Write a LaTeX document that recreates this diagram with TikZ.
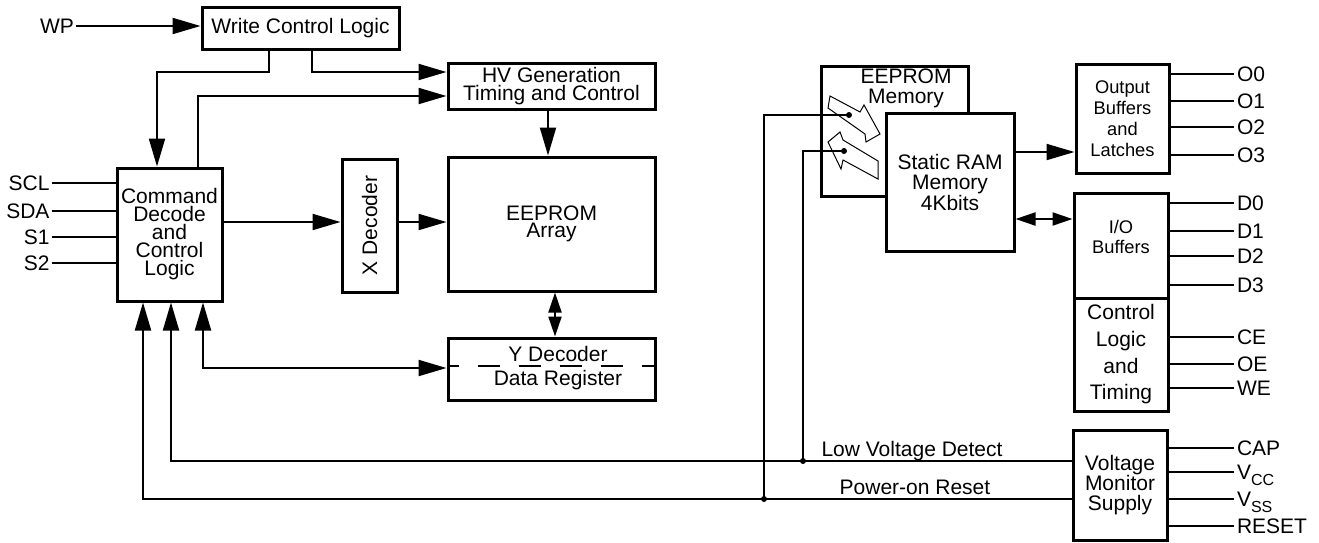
\documentclass[tikz,border=0pt]{standalone}
\usepackage{fontspec}
\setmainfont{Liberation Sans}
\usetikzlibrary{arrows.meta}

\newcommand{\subtxt}[1]{\raisebox{-5.5pt}{\fontsize{16}{16}\selectfont #1}}

\begin{document}
\begin{tikzpicture}[x=1pt,y=-1pt,line width=2pt,
  font=\fontsize{21}{18}\selectfont,
  blk/.style={draw,line width=3pt,fill=white,inner sep=0pt,align=center},
  txt/.style={inner sep=0pt,align=center},
  smallfont/.style={font=\fontsize{18.3}{21}\selectfont},
  pinl/.style={inner sep=1pt,anchor=east,text height=15pt,text depth=0pt},
  pinr/.style={inner sep=2pt,anchor=west,text height=15pt,text depth=0pt},
  arr/.style={-{Triangle[length=28pt,width=16pt]}},
  barr/.style={{Triangle[length=28pt,width=16pt]}-{Triangle[length=28pt,width=16pt]}},
  darr/.style={{Triangle[length=20pt,width=13pt]}-{Triangle[length=20pt,width=13pt]}},
  hollow/.style={line width=1pt,fill=white,line join=miter}]
\useasboundingbox (0,0) rectangle (1319,542);

% left part: write control, command decode, array
\node[blk,minimum width=197pt,minimum height=42pt] (wcl) at (300.5,28) {Write Control Logic};
\node[blk,minimum width=207pt,minimum height=46pt] (hv) at (551.5,86) {HV Generation\\Timing and Control};
\node[blk,minimum width=105pt,minimum height=133pt,font=\fontsize{21}{18}\selectfont] (cmd) at (169.5,234.5) {Command\\Decode\\and\\Control\\Logic};
\node[blk,minimum width=55pt,minimum height=133pt] (xdec) at (369.5,225.5) {};
\node[txt,rotate=90] (xdeclbl) at (xdec) {X Decoder};
\node[blk,minimum width=207pt,minimum height=134pt,font=\fontsize{21}{17}\selectfont] (array) at (551.5,224) {EEPROM\\Array};
\node[blk,minimum width=207pt,minimum height=62pt] (ydec) at (551.5,369) {};
\draw[dash pattern=on 22pt off 19pt,dash phase=10pt] ([yshift=3pt]ydec.west) -- ([yshift=3pt]ydec.east);
\node[txt] (ydeclbl) at (558,354) {Y Decoder};
\node[txt] (dreglbl) at (558,380) {Data Register};

\node[pinl] (wp) at (76,26) {WP};
\draw[arr] (wp.east) -- (wp.east -| wcl.west);
\foreach \nm/\lbl/\y in {scl/SCL/183,sda/SDA/211,sa/S1/237,sb/S2/263}{
  \node[pinl] (\nm) at (51.5,\y) {\lbl};
  \draw (\nm.east) -- (\nm.east -| cmd.west);
}

\draw[arr] ([xshift=-31.5pt]wcl.south) -- ++(0,21) -| ([xshift=-12.5pt]cmd.north);
\draw[arr] ([xshift=11.5pt]wcl.south) |- ([yshift=14pt]hv.west);
\draw[arr] ([xshift=28.5pt]cmd.north) |- ([yshift=-10pt]hv.west);
\draw[arr] ([xshift=-3.5pt]hv.south) -- ([xshift=-3.5pt]array.north);
\draw[arr] ([yshift=12.5pt]cmd.east) -- ([yshift=12.5pt]cmd.east -| xdec.west);
\draw[arr] ([yshift=3.5pt]xdec.east) -- ([yshift=3.5pt]xdec.east -| array.west);
\draw[darr] ([xshift=3.5pt]array.south) -- ([xshift=3.5pt]ydec.north);
\draw[barr] ([xshift=33.5pt]cmd.south) |- ([yshift=1pt]ydec.west);

% memory
\node[blk,minimum width=147pt,minimum height=130pt] (eeprom) at (894.5,131) {};
\node[txt,font=\fontsize{21}{20}\selectfont] (eeplbl) at (906,88) {EEPROM\\Memory};
\draw[hollow] (830,96) -- (860,112) -- (864,105) -- (880,134) -- (866,142) -- (865,134) -- (828,108) -- cycle;
\draw[hollow] (828,142) -- (840,132) -- (843,140) -- (878,161) -- (878,179) -- (843,160) -- (841,169) -- cycle;
\node[blk,minimum width=128pt,minimum height=138pt,font=\fontsize{21}{20.5}\selectfont] (sram) at (950,182) {Static RAM\\Memory\\4Kbits};

% right part
\node[blk,smallfont,minimum width=93pt,minimum height=109pt] (obuf) at (1122.5,118.5) {Output\\Buffers\\and\\Latches};
\node[blk,minimum width=94pt,minimum height=105pt] (iobuf) at (1121,245.5) {};
\node[txt,font=\fontsize{18.3}{20}\selectfont] (iolbl) at ([yshift=8.5pt]iobuf.center) {I/O\\Buffers};
\node[blk,minimum width=94pt,minimum height=113pt,font=\fontsize{21}{26.7}\selectfont] (ctrl) at (1121,354.5) {Control\\Logic\\and\\Timing};
\node[blk,minimum width=94pt,minimum height=110pt,font=\fontsize{21}{20}\selectfont] (vmon) at (1120,485) {Voltage\\Monitor\\Supply};

\draw[arr] ([yshift=-33.5pt]obuf.west -| sram.east) -- ([yshift=-33.5pt]obuf.west);
\draw[darr] ([yshift=26.5pt]iobuf.west -| sram.east) -- ([yshift=26.5pt]iobuf.west);

\foreach \nm/\lbl/\y/\bx in {o0/O0/74/obuf,o1/O1/101/obuf,o2/O2/127/obuf,o3/O3/155/obuf,
    d0/D0/203/iobuf,d1/D1/231/iobuf,d2/D2/256/iobuf,d3/D3/285/iobuf,
    ce/CE/337/ctrl,oe/OE/364/ctrl,we/WE/388/ctrl,
    cap/CAP/448/vmon,vcc/V\subtxt{CC}/472/vmon,vss/V\subtxt{SS}/499/vmon,rst/RESET/526/vmon}{
  \node[pinr] (\nm) at (1234,\y) {\lbl};
  \draw (\nm.west) -- (\nm.west -| \bx.east);
}

% supervisory lines
\draw[arr] ([yshift=24pt]vmon.west) -| ([xshift=1.5pt]cmd.south);
\draw[arr] ([yshift=-14pt]vmon.west) -| ([xshift=-26.5pt]cmd.south);
\node[txt] (lvdlbl) at (912,451) {Low Voltage Detect};
\node[txt] (porlbl) at (915,487) {Power-on Reset};
\coordinate (lvd) at (803,461);
\coordinate (por) at (764,499);
\coordinate (a1) at (849,115);
\coordinate (a2) at (844,151);
\draw (a1) -| (por);
\draw (a2) -| (lvd);
\foreach \p in {a1,a2,lvd,por} \fill (\p) circle (3pt);
\end{tikzpicture}
\end{document}
